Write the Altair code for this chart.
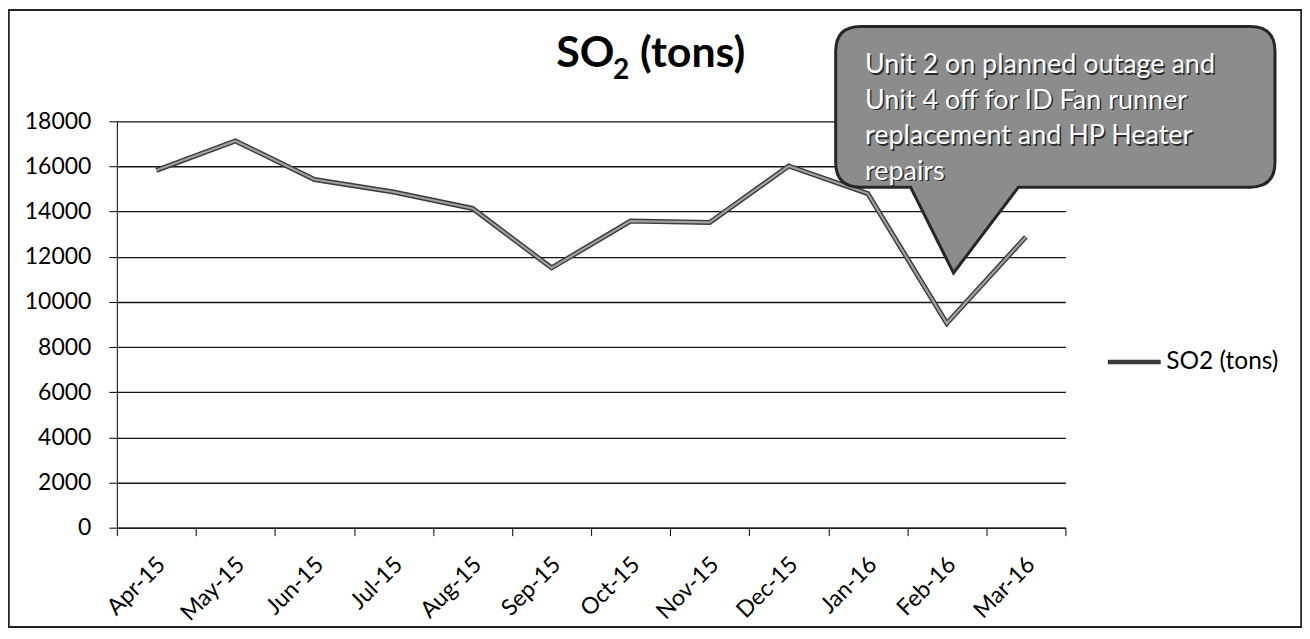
import altair as alt
import pandas as pd

# ---- data ----
months = ["Apr-15", "May-15", "Jun-15", "Jul-15", "Aug-15", "Sep-15",
          "Oct-15", "Nov-15", "Dec-15", "Jan-16", "Feb-16", "Mar-16"]
so2_tons = [15830, 17130, 15420, 14870, 14140, 11510,
            13580, 13520, 16020, 14800, 9050, 12880]
series_name = "SO2 (tons)"
y_ticks = [0, 2000, 4000, 6000, 8000, 10000, 12000, 14000, 16000, 18000]
title_parts = ["SO", "2", "(tons)"]
callout_lines = ["Unit 2 on planned outage and",
                 "Unit 4 off for ID Fan runner",
                 "replacement and HP Heater",
                 "repairs"]
callout_month = ["Feb-16"]
callout_value = [11280]

# ---- layout ----
W, H = 950, 407
FONT = "Lato"

df = pd.DataFrame({"month": months, "so2": so2_tons, "series": [series_name] * len(months)})
callout_df = pd.DataFrame({"month": callout_month, "so2": callout_value})

x_enc = alt.X(
    "month:N",
    sort=months,
    scale=alt.Scale(type="band", domain=months, paddingInner=0, paddingOuter=0),
    axis=alt.Axis(
        title=None, labelAngle=-45, labelAlign="right", labelBaseline="middle",
        tickBand="extent", grid=False, domainColor="black", tickColor="black",
        tickSize=8, labelFont=FONT, labelFontSize=23, labelColor="black",
        labelPadding=25, labelOffset=5,
    ),
)
y_enc = alt.Y(
    "so2:Q",
    scale=alt.Scale(domain=[0, 18000], nice=False),
    axis=alt.Axis(
        values=y_ticks, format="d", title=None, grid=True, gridColor="#151515",
        gridWidth=1.3, domainColor="black", tickColor="black", tickSize=8,
        labelFont=FONT, labelFontSize=23, labelColor="black", labelPadding=18,
    ),
)

frame = alt.Chart(df).mark_rect(fillOpacity=0, stroke="#222222", strokeWidth=1.2).encode(
    x=alt.value(-108.5), x2=alt.value(1186.5), y=alt.value(-111.5), y2=alt.value(506.5)
)

line_outer = alt.Chart(df).mark_line(strokeWidth=5).encode(
    x=x_enc, y=y_enc,
    color=alt.Color(
        "series:N",
        scale=alt.Scale(range=["#3a3a3a"]),
        legend=alt.Legend(
            title=None, orient="none", legendX=990, legendY=212,
            symbolType="stroke", symbolSize=2809, symbolStrokeWidth=4.5,
            labelFont=FONT, labelFontSize=24.5, labelColor="black", labelOffset=3,
        ),
    ),
)
line_inner = alt.Chart(df).mark_line(strokeWidth=2.2, color="#a0a0a0").encode(x=x_enc, y=y_enc)

# callout balloon: custom symbol path (units of 100 px), anchored at its tip
callout_path = (
    "M 0.067 0 L 0.717 -0.86 L 3.037 -0.86 Q 3.287 -0.86 3.287 -1.11 "
    "L 3.287 -2.22 Q 3.287 -2.47 3.037 -2.47 L -0.863 -2.47 "
    "Q -1.113 -2.47 -1.113 -2.22 L -1.113 -1.11 Q -1.113 -0.86 -0.863 -0.86 "
    "L -0.363 -0.86 Z"
)
balloon = alt.Chart(callout_df).mark_point(
    shape=callout_path, filled=True, fill="#8c8c8c", stroke="#262626",
    strokeWidth=3, opacity=1, fillOpacity=1,
).encode(x=x_enc, y=y_enc, size=alt.value(40000))

callout_shadow = alt.Chart(callout_df).mark_text(
    text=callout_lines, align="left", baseline="alphabetic", font=FONT,
    fontSize=27, color="#2a2a2a", lineHeight=35.5, dx=-80.5, dy=-198.5,
).encode(x=x_enc, y=y_enc)
callout_text = alt.Chart(callout_df).mark_text(
    text=callout_lines, align="left", baseline="alphabetic", font=FONT,
    fontSize=27, color="white", lineHeight=35.5, dx=-82, dy=-200,
).encode(x=x_enc, y=y_enc)

# title "SO2 (tons)" with a subscript 2
title_so = alt.Chart(callout_df).mark_text(
    text=title_parts[0], font=FONT, fontSize=43, fontWeight="bold", color="black",
    align="left", baseline="alphabetic",
).encode(x=alt.value(440), y=alt.value(-54))
title_sub = alt.Chart(callout_df).mark_text(
    text=title_parts[1], font=FONT, fontSize=28, fontWeight="bold", color="black",
    align="left", baseline="alphabetic",
).encode(x=alt.value(497), y=alt.value(-42))
title_rest = alt.Chart(callout_df).mark_text(
    text=title_parts[2], font=FONT, fontSize=43, fontWeight="bold", color="black",
    align="left", baseline="alphabetic",
).encode(x=alt.value(524), y=alt.value(-54))

chart = alt.layer(
    frame, line_outer, line_inner, balloon, callout_shadow, callout_text,
    title_so, title_sub, title_rest,
).properties(
    width=W, height=H,
    padding={"left": 109, "top": 113, "right": 237, "bottom": 100},
    autosize=alt.AutoSizeParams(type="none"),
    background="white",
).configure_view(stroke=None)

chart.save("out.html", embed_options={"renderer": "svg", "actions": False})
